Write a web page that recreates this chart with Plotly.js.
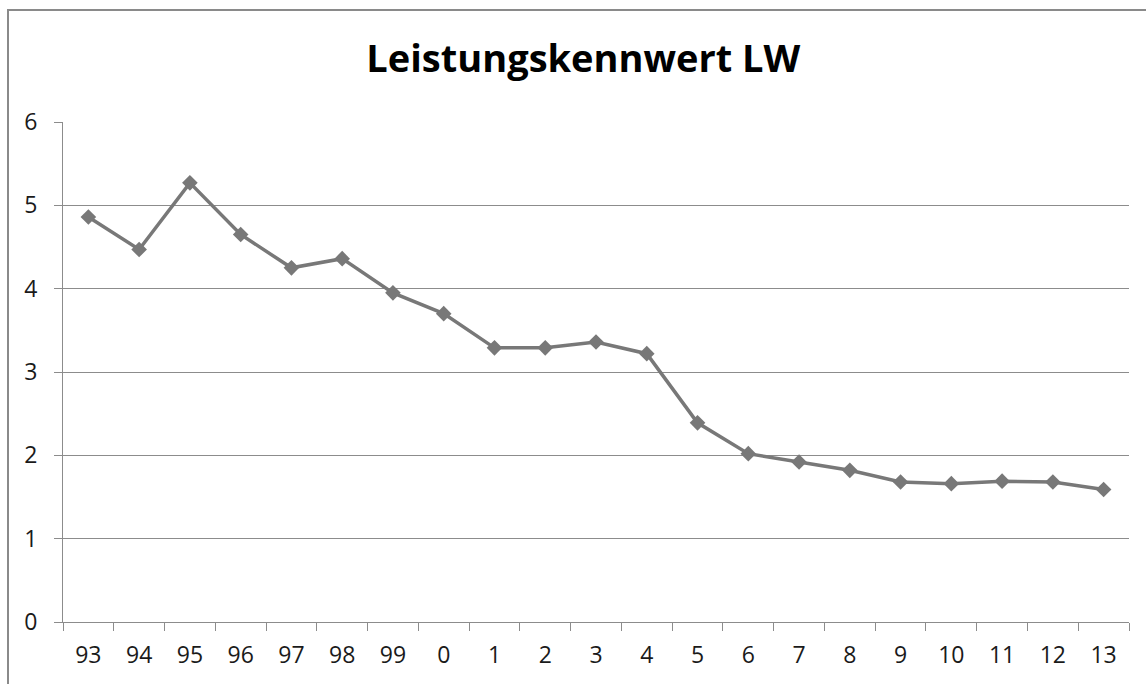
<!DOCTYPE html>
<html>
<head>
<meta charset="utf-8">
<script src="https://cdn.plot.ly/plotly-3.0.1.min.js"></script>
<style>
  body { margin: 0; padding: 0; background: #fff; overflow: hidden; }
  #frame { position: absolute; left: 7px; top: 9px; width: 1300px; height: 900px; border: 2px solid #8a8a8a; box-sizing: border-box; }
  #chart { position: absolute; left: 0; top: 0; width: 1146px; height: 684px; }
</style>
</head>
<body>
<div id="frame"></div>
<div id="chart"></div>
<script>
const categories = ["93","94","95","96","97","98","99","0","1","2","3","4","5","6","7","8","9","10","11","12","13"];
const values = [4.86, 4.47, 5.27, 4.65, 4.25, 4.36, 3.95, 3.70, 3.29, 3.29, 3.36, 3.22, 2.39, 2.02, 1.92, 1.82, 1.68, 1.66, 1.69, 1.68, 1.59];
const yTicks = [0, 1, 2, 3, 4, 5, 6];
const titleText = "Leistungskennwert LW";

const trace = {
  x: categories,
  y: values,
  type: "scatter",
  mode: "lines+markers",
  line: { color: "#787878", width: 3.5 },
  marker: { symbol: "diamond", size: 12, color: "#787878" },
  hoverinfo: "x+y"
};

const layout = {
  width: 1146,
  height: 684,
  margin: { l: 63, r: 17, t: 122, b: 62 },
  paper_bgcolor: "rgba(0,0,0,0)",
  plot_bgcolor: "rgba(0,0,0,0)",
  showlegend: false,
  font: { family: "Open Sans, sans-serif", color: "#1a1a1a" },
  title: {
    text: "<b>" + titleText + "</b>",
    font: { family: "Open Sans, sans-serif", size: 38, color: "#000" },
    x: 0.509, xanchor: "center",
    y: 0.914, yanchor: "middle"
  },
  xaxis: {
    type: "category",
    tickmode: "array",
    tickvals: categories,
    ticktext: categories,
    showgrid: false,
    zeroline: false,
    showline: true,
    linecolor: "#8c8c8c",
    linewidth: 1,
    ticks: "outside",
    tickson: "boundaries",
    ticklen: 8,
    tickcolor: "#8c8c8c",
    ticklabelstandoff: 12,
    tickfont: { size: 23, color: "#1a1a1a" },
    range: [-0.5, categories.length - 0.5],
    fixedrange: true
  },
  yaxis: {
    range: [0, 6],
    tickmode: "array",
    tickvals: yTicks,
    ticktext: yTicks.map(String),
    showgrid: true,
    gridcolor: "#8c8c8c",
    gridwidth: 1,
    zeroline: false,
    showline: true,
    linecolor: "#8c8c8c",
    linewidth: 1,
    ticks: "outside",
    ticklen: 8,
    tickcolor: "#8c8c8c",
    ticklabelstandoff: 12,
    tickfont: { size: 23, color: "#1a1a1a" },
    fixedrange: true
  }
};

Plotly.newPlot("chart", [trace], layout, { displayModeBar: false, staticPlot: true });
</script>
</body>
</html>
